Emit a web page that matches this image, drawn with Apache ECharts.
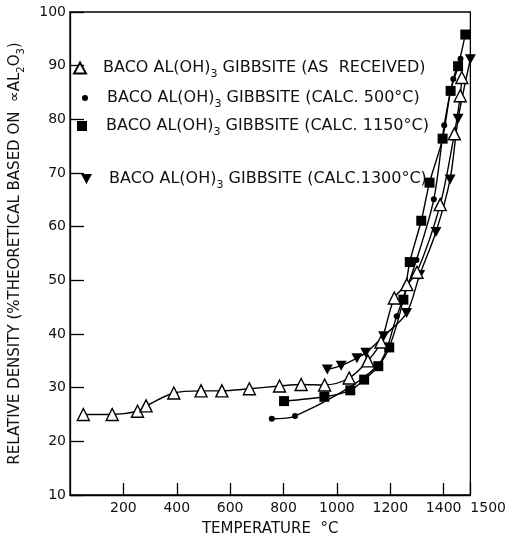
<!DOCTYPE html>
<html><head><meta charset="utf-8">
<script src="https://cdn.jsdelivr.net/npm/echarts@6/dist/echarts.min.js"></script>
<style>html,body{margin:0;padding:0;background:#fff}#c{width:509px;height:542px}</style>
</head><body><div id="c"></div>
<script>
// Series names (split around the subscript "3")
const namePrefix = 'BACO AL(OH)';
const nameSubscript = '3';
const nameSuffixes = [' GIBBSITE (AS  RECEIVED)', ' GIBBSITE (CALC. 500°C)', ' GIBBSITE (CALC. 1150°C)', ' GIBBSITE (CALC.1300°C)'];

// As received (open triangles)
const asReceivedTemp    = [50, 158, 253, 285, 389, 491, 569, 672, 785, 866, 954, 1046, 1116, 1165, 1215, 1262, 1300, 1387, 1440, 1462, 1468];
const asReceivedDensity = [25.0, 25.0, 25.6, 26.6, 29.0, 29.4, 29.4, 29.8, 30.3, 30.6, 30.5, 31.8, 35.0, 38.5, 46.7, 49.2, 51.5, 64.1, 77.3, 84.4, 87.8];
// Calcined 500 °C (dots)
const calc500Temp    = [756, 843, 1150, 1224, 1298, 1363, 1402, 1436, 1463];
const calc500Density = [24.2, 24.7, 34.0, 43.3, 53.8, 65.1, 78.9, 87.5, 91.3];
// Calcined 1150 °C (squares)
const calc1150Temp    = [802, 953, 1050, 1102, 1155, 1196, 1249, 1273, 1316, 1347, 1396, 1426, 1454, 1481];
const calc1150Density = [27.5, 28.3, 29.5, 31.5, 34.0, 37.5, 46.4, 53.4, 61.1, 68.2, 76.4, 85.3, 89.9, 95.8];
// Calcined 1300 °C (inverted triangles)
const calc1300Temp    = [964, 1016, 1075, 1108, 1175, 1261, 1310, 1371, 1424, 1454, 1500];
const calc1300Density = [33.4, 34.1, 35.5, 36.5, 39.6, 43.9, 51.0, 59.0, 68.8, 80.1, 91.2];

const FONT = 'DejaVu Sans';
const names = nameSuffixes.map(s => namePrefix + nameSubscript + s);
const pair = (xs, ys) => xs.map((x, i) => [x, ys[i]]);
const invTri = 'path://M0,0 L10,0 L5,9 Z';

const richText = {
  t: { fontFamily: FONT, fontSize: 16, color: '#111' },
  s: { fontFamily: FONT, fontSize: 11, color: '#111', padding: [12, 0, 0, 0] }
};
function fmt(name) {
  const i = names.indexOf(name);
  return '{t|' + namePrefix + '}{s|' + nameSubscript + '}{t|' + nameSuffixes[i] + '}';
}

const lineStyle = { color: '#000', width: 1.4 };
const series = [
  { name: names[0], type: 'line', smooth: 0.3, data: pair(asReceivedTemp, asReceivedDensity),
    symbol: 'triangle', symbolSize: 12, lineStyle,
    itemStyle: { color: '#fff', borderColor: '#000', borderWidth: 1.4 }, z: 5 },
  { name: names[1], type: 'line', smooth: 0.3, data: pair(calc500Temp, calc500Density),
    symbol: 'circle', symbolSize: 6, lineStyle,
    itemStyle: { color: '#000', borderColor: '#000', borderWidth: 0 }, z: 4 },
  { name: names[2], type: 'line', smooth: 0.3, data: pair(calc1150Temp, calc1150Density),
    symbol: 'rect', symbolSize: 10, lineStyle,
    itemStyle: { color: '#000', borderColor: '#000', borderWidth: 0 }, z: 3 },
  { name: names[3], type: 'line', smooth: 0.3, data: pair(calc1300Temp, calc1300Density),
    symbol: invTri, symbolSize: [11, 10], lineStyle,
    itemStyle: { color: '#000', borderColor: '#000', borderWidth: 0 }, z: 3 }
];

const legendPos = [
  { left: 73, top: 60, w: 12, h: 11, icon: 'triangle', pad: 12 },
  { left: 82, top: 90, w: 6, h: 6, icon: 'circle', pad: 14 },
  { left: 77, top: 118, w: 10, h: 10, icon: 'rect', pad: 14 },
  { left: 81, top: 171, w: 11, h: 10, icon: invTri, pad: 12 }
];
const legends = legendPos.map((p, i) => ({
  data: [{ name: names[i], icon: p.icon }],
  left: p.left, top: p.top, padding: 0, orient: 'horizontal',
  itemWidth: p.w, itemHeight: p.h, selectedMode: false,
  formatter: fmt,
  textStyle: { rich: richText, padding: [0, 0, 0, p.pad] }
}));

const chart = echarts.init(document.getElementById('c'), null, { renderer: 'canvas' });
chart.setOption({
  animation: false,
  backgroundColor: '#fff',
  grid: { left: 63, right: 36, top: 12, bottom: 41, show: true, borderColor: '#000', borderWidth: 1.3, containLabel: false },
  legend: legends,
  xAxis: {
    type: 'value', min: 0, max: 1500, interval: 200,
    name: 'TEMPERATURE  °C', nameLocation: 'middle', nameGap: 27,
    nameTextStyle: { fontFamily: FONT, fontSize: 15, color: '#111' },
    axisLine: { lineStyle: { color: '#000', width: 1.3 } },
    axisTick: { inside: true, length: 12, lineStyle: { color: '#000', width: 1.3 } },
    axisLabel: { fontFamily: FONT, fontSize: 14, color: '#111', margin: 6, showMinLabel: false, alignMaxLabel: 'left',
      formatter: v => String(v) },
    splitLine: { show: false }
  },
  yAxis: {
    type: 'value', min: 10, max: 100, interval: 10,
    name: '{t|RELATIVE DENSITY (%THEORETICAL BASED ON  \u221DAL}{s|2}{t|O}{s|3}{t|)}',
    nameLocation: 'middle', nameGap: 44,
    nameTextStyle: { rich: {
      t: { fontFamily: FONT, fontSize: 15, color: '#111' },
      s: { fontFamily: FONT, fontSize: 10, color: '#111', padding: [11, 0, 0, 0] } } },
    axisLine: { lineStyle: { color: '#000', width: 1.3 } },
    axisTick: { inside: true, length: 14, lineStyle: { color: '#000', width: 1.3 } },
    axisLabel: { fontFamily: FONT, fontSize: 14, color: '#111', margin: 4 },
    splitLine: { show: false }
  },
  series
});
</script></body></html>
